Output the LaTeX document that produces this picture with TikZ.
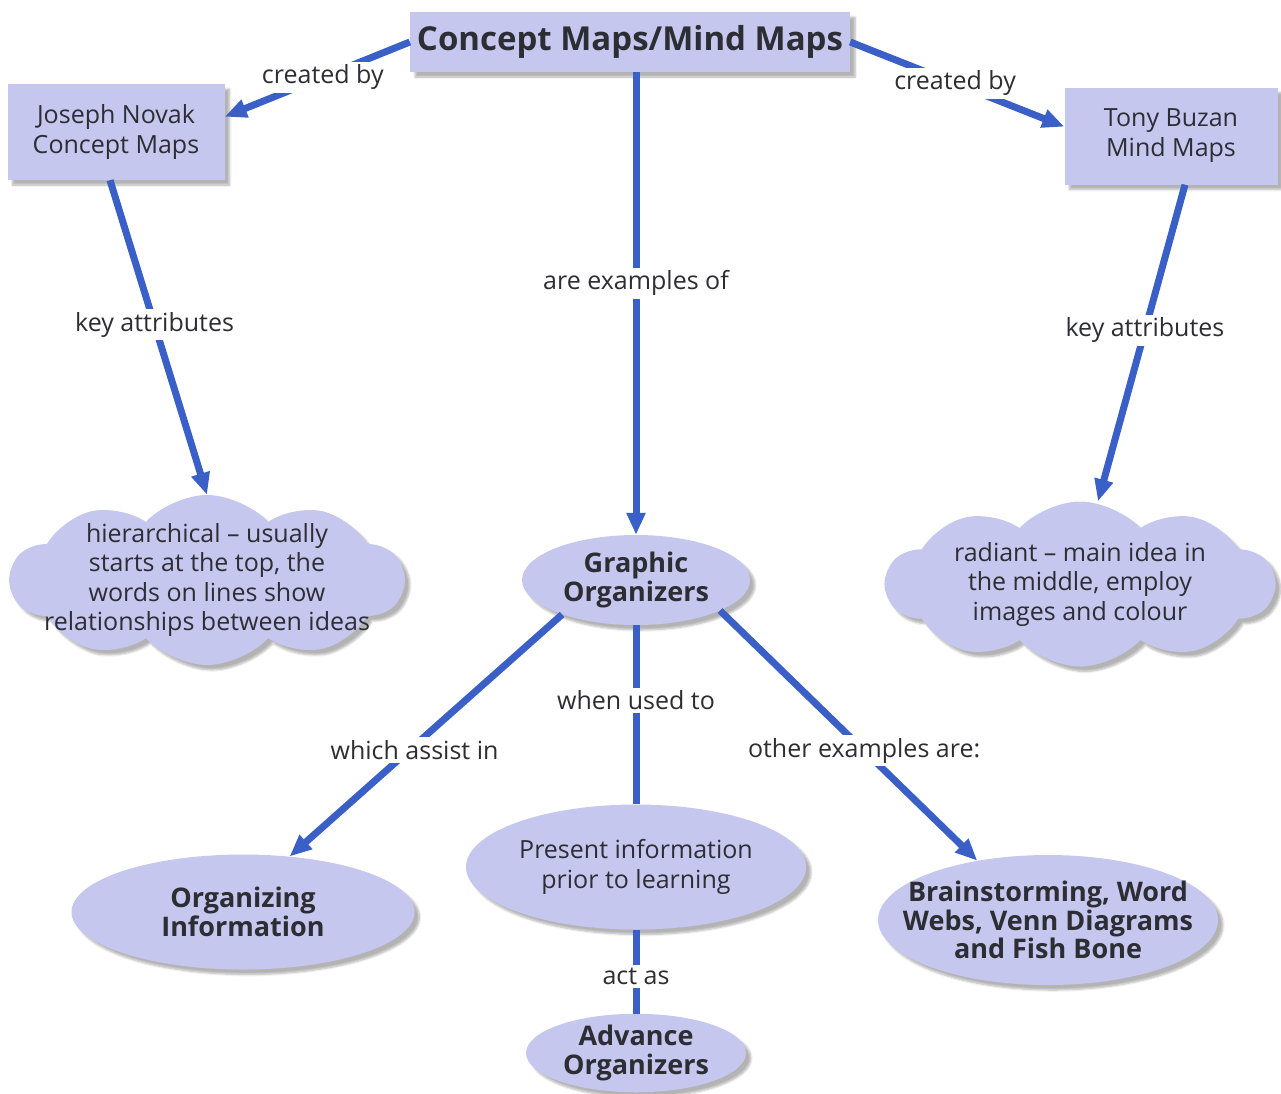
\documentclass[tikz,border=0pt]{standalone}
\usepackage{fontspec}
\setmainfont{Open Sans}
\usetikzlibrary{shapes.geometric,shapes.symbols,shadows.blur,arrows.meta}
\definecolor{lav}{RGB}{198,199,239}
\definecolor{edgeblue}{RGB}{58,96,200}
\definecolor{txt}{RGB}{45,45,52}
\tikzset{
 sh/.style={blur shadow={shadow xshift=5pt,shadow yshift=-5pt,shadow blur steps=6,shadow opacity=30}},
 box/.style={rectangle,fill=lav,sh,text=txt,align=center,inner sep=0pt,font=\fontsize{25}{30}\selectfont},
 ell/.style={ellipse,fill=lav,sh,text=txt,align=center,inner sep=0pt,font=\bfseries\fontsize{27}{28.5}\selectfont},
 cl/.style={cloud,cloud ignores aspect,cloud puffs=10,cloud puff arc=95,fill=lav,sh,text=txt,align=center,inner xsep=-60pt,inner ysep=-20pt,font=\fontsize{25}{29.5}\selectfont},
 con/.style={draw=edgeblue,line width=7pt},
 arr/.style={con,-{Triangle[length=22pt,width=18pt]}},
 lbl/.style={fill=white,text=txt,inner sep=3pt,font=\fontsize{25}{28}\selectfont},
}
\begin{document}
\begin{tikzpicture}[x=1pt,y=-1pt]
\useasboundingbox (0,0) rectangle (1281,1093);
\node[box,minimum width=440pt,minimum height=60pt,font=\bfseries\fontsize{33}{38}\selectfont] (top) at (630,42) {Concept Maps/Mind Maps};
\node[box,minimum width=217pt,minimum height=96pt] (novak) at (116,132) {Joseph Novak\\Concept Maps};
\node[box,minimum width=213pt,minimum height=97pt] (tony) at (1171,136) {Tony Buzan\\Mind Maps};
\node[cl,minimum width=393pt,minimum height=170pt] (lcloud) at (207,580) {hierarchical – usually\\starts at the top, the\\words on lines show\\relationships between ideas};
\node[cl,minimum width=388pt,minimum height=165pt] (rcloud) at (1080,584) {radiant – main idea in\\the middle, employ\\images and colour};
\node[ell,minimum width=228pt,minimum height=90pt] (graphic) at (636,580) {Graphic\\Organizers};
\node[ell,minimum width=343pt,minimum height=115pt] (organizing) at (243,912) {Organizing\\Information};
\node[ell,minimum width=340pt,minimum height=125pt,font=\fontsize{25}{30}\selectfont] (present) at (636,867) {Present information\\prior to learning};
\node[ell,minimum width=340pt,minimum height=130pt,inner xsep=-32pt,inner ysep=-4pt] (brain) at (1048,920) {Brainstorming, Word\\Webs, Venn Diagrams\\and Fish Bone};
\node[ell,minimum width=220pt,minimum height=78pt] (advance) at (636,1053) {Advance\\Organizers};

\draw[arr] (top.west) -- node[lbl,pos=0.47]{created by} (novak.8);
\draw[arr] (top.east) -- node[lbl,pos=0.49]{created by} (tony.175);
\draw[arr] (graphic.north |- top.south) -- node[lbl,pos=0.456]{are examples of} (graphic.north);
\draw[arr] ([xshift=-6pt]novak.south) -- node[lbl,pos=0.46]{key attributes} (lcloud.north);
\draw[arr] ([xshift=14pt]tony.south) -- node[lbl,pos=0.46]{key attributes} ([xshift=18pt]rcloud.north);
\draw[arr] (graphic.-155) -- node[lbl,pos=0.56,xshift=5pt]{which assist in} (organizing.50);
\draw[con] (graphic.south) -- node[lbl,pos=0.42]{when used to} (present.north);
\draw[arr] (graphic.-20) -- node[lbl,pos=0.56]{other examples are:} (brain.140);
\draw[con] (present.south) -- node[lbl,pos=0.56]{act as} (advance.north);
\end{tikzpicture}
\end{document}
